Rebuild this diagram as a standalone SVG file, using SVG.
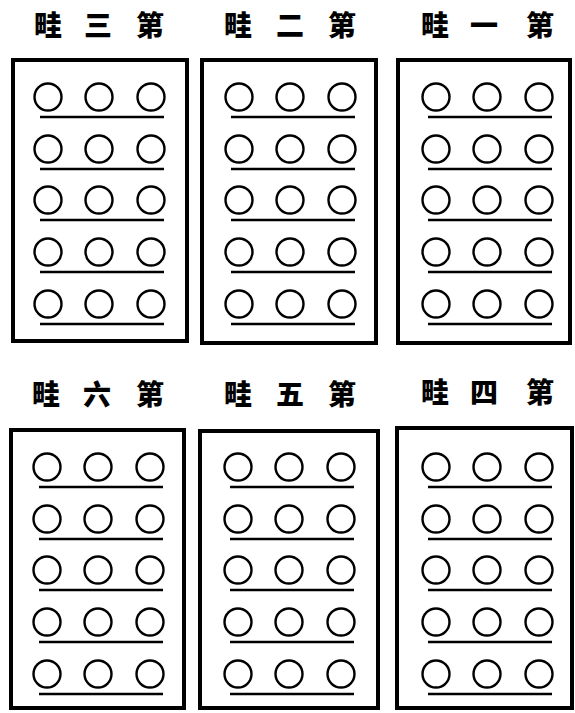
<svg xmlns="http://www.w3.org/2000/svg" width="575" height="713" viewBox="0 0 575 713">
<style>
.t{font-family:"Noto Sans CJK SC","Noto Sans CJK TC",sans-serif;font-size:28px;font-weight:900;fill:#000;text-anchor:middle}
.b{fill:none;stroke:#000;stroke-width:4}
.c{fill:none;stroke:#000;stroke-width:2.4}
.u{stroke:#000;stroke-width:2.4}
</style>
<defs>
<g id="row">
<circle class="c" cx="0" cy="0" r="13.5"/>
<circle class="c" cx="51" cy="0" r="13.5"/>
<circle class="c" cx="103" cy="0" r="13.5"/>
<line class="u" x1="-8" y1="20" x2="116" y2="20"/>
</g>
<g id="rows">
<use href="#row" y="0"/>
<use href="#row" y="52"/>
<use href="#row" y="103"/>
<use href="#row" y="155"/>
<use href="#row" y="207"/>
</g>
</defs>
<rect width="575" height="713" fill="#fff"/>
<g id="plot3">
<text class="t" x="48" y="36">畦</text><text class="t" x="98" y="36">三</text><text class="t" x="150" y="36">第</text>
<rect class="b" x="13" y="60" width="174" height="281"/>
<use href="#rows" x="48" y="97"/>
</g>
<g id="plot2">
<text class="t" x="238" y="36">畦</text><text class="t" x="290" y="36">二</text><text class="t" x="342" y="36">第</text>
<rect class="b" x="202" y="60" width="174" height="283"/>
<use href="#rows" x="239" y="97"/>
</g>
<g id="plot1">
<text class="t" x="435" y="36">畦</text><text class="t" x="484" y="36">一</text><text class="t" x="540" y="36">第</text>
<rect class="b" x="398" y="60" width="172" height="283"/>
<use href="#rows" x="436" y="97"/>
</g>
<g id="plot6">
<text class="t" x="46" y="405">畦</text><text class="t" x="97" y="405">六</text><text class="t" x="150" y="405">第</text>
<rect class="b" x="11" y="430" width="173" height="278"/>
<use href="#rows" x="47" y="467"/>
</g>
<g id="plot5">
<text class="t" x="238" y="405">畦</text><text class="t" x="290" y="405">五</text><text class="t" x="342" y="405">第</text>
<rect class="b" x="200" y="431" width="178" height="277"/>
<use href="#rows" x="238" y="467"/>
</g>
<g id="plot4">
<text class="t" x="435" y="403">畦</text><text class="t" x="484" y="403">四</text><text class="t" x="540" y="403">第</text>
<rect class="b" x="397" y="428" width="175" height="280"/>
<use href="#rows" x="436" y="467"/>
</g>
<g id="connectors"></g>
</svg>
